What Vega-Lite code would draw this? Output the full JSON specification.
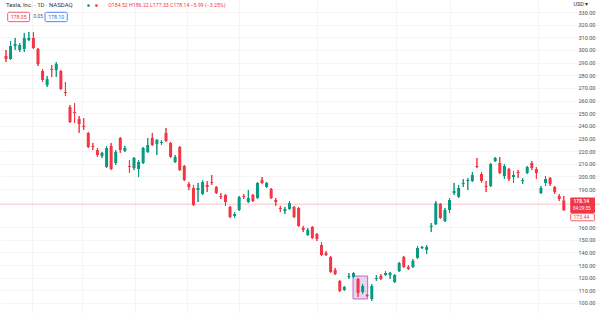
{
  "$schema": "https://vega.github.io/schema/vega-lite/v6.json",
  "width": 600,
  "height": 313,
  "autosize": {"type": "none"},
  "padding": 0,
  "background": "white",
  "config": {"view": {"stroke": null}, "font": "Roboto"},
  "data": {"values": [
    {"i":0,"o":295.3,"h":300.0,"l":290.5,"c":292.9},
    {"i":1,"o":292.9,"h":307.1,"l":292.1,"c":303.1},
    {"i":2,"o":303.1,"h":309.5,"l":300.0,"c":304.7},
    {"i":3,"o":300.0,"h":305.5,"l":298.4,"c":303.9},
    {"i":4,"o":300.8,"h":313.4,"l":298.4,"c":309.5},
    {"i":5,"o":307.9,"h":314.2,"l":307.1,"c":309.5},
    {"i":6,"o":309.5,"h":314.2,"l":300.8,"c":301.6},
    {"i":7,"o":300.8,"h":301.6,"l":287.3,"c":288.9},
    {"i":8,"o":283.4,"h":285.0,"l":274.7,"c":276.3},
    {"i":9,"o":272.3,"h":279.4,"l":270.8,"c":277.0},
    {"i":10,"o":285.0,"h":288.1,"l":278.6,"c":284.2},
    {"i":11,"o":284.2,"h":290.5,"l":278.6,"c":288.9},
    {"i":12,"o":283.4,"h":284.2,"l":268.4,"c":269.2},
    {"i":13,"o":266.8,"h":274.7,"l":263.6,"c":266.0},
    {"i":14,"o":254.9,"h":256.5,"l":242.3,"c":243.1},
    {"i":15,"o":251.0,"h":258.1,"l":242.3,"c":250.2},
    {"i":16,"o":245.5,"h":247.8,"l":234.4,"c":241.5},
    {"i":17,"o":239.9,"h":246.2,"l":236.8,"c":239.1},
    {"i":18,"o":234.4,"h":235.2,"l":222.5,"c":223.3},
    {"i":19,"o":224.1,"h":226.5,"l":220.9,"c":223.3},
    {"i":20,"o":220.9,"h":222.5,"l":215.4,"c":217.0},
    {"i":21,"o":216.2,"h":219.4,"l":214.6,"c":218.6},
    {"i":22,"o":207.5,"h":224.1,"l":206.7,"c":222.5},
    {"i":23,"o":224.1,"h":226.5,"l":205.1,"c":205.9},
    {"i":24,"o":210.7,"h":220.9,"l":209.1,"c":219.4},
    {"i":25,"o":230.4,"h":231.2,"l":218.6,"c":220.9},
    {"i":26,"o":220.2,"h":224.1,"l":219.4,"c":222.5},
    {"i":27,"o":208.3,"h":213.0,"l":202.8,"c":207.5},
    {"i":28,"o":206.7,"h":215.4,"l":205.1,"c":214.6},
    {"i":29,"o":205.9,"h":213.0,"l":199.6,"c":211.5},
    {"i":30,"o":210.7,"h":223.3,"l":209.9,"c":222.5},
    {"i":31,"o":219.4,"h":230.4,"l":218.6,"c":224.9},
    {"i":32,"o":230.4,"h":234.4,"l":224.1,"c":224.9},
    {"i":33,"o":225.7,"h":229.6,"l":217.0,"c":228.8},
    {"i":34,"o":226.5,"h":228.8,"l":224.9,"c":227.3},
    {"i":35,"o":234.4,"h":238.3,"l":227.3,"c":228.1},
    {"i":36,"o":226.5,"h":227.3,"l":214.6,"c":215.4},
    {"i":37,"o":211.5,"h":217.0,"l":210.7,"c":215.4},
    {"i":38,"o":223.3,"h":224.1,"l":204.4,"c":205.1},
    {"i":39,"o":208.3,"h":209.1,"l":196.4,"c":197.2},
    {"i":40,"o":194.1,"h":195.6,"l":189.3,"c":191.7},
    {"i":41,"o":190.9,"h":193.3,"l":176.7,"c":177.5},
    {"i":42,"o":189.3,"h":194.9,"l":179.8,"c":190.9},
    {"i":43,"o":186.2,"h":197.2,"l":185.4,"c":195.6},
    {"i":44,"o":193.3,"h":196.4,"l":187.7,"c":191.7},
    {"i":45,"o":195.6,"h":201.2,"l":193.3,"c":194.9},
    {"i":46,"o":191.7,"h":192.5,"l":186.2,"c":186.9},
    {"i":47,"o":184.6,"h":186.9,"l":182.2,"c":183.8},
    {"i":48,"o":185.4,"h":186.2,"l":176.7,"c":179.8},
    {"i":49,"o":175.9,"h":176.7,"l":167.2,"c":168.0},
    {"i":50,"o":168.8,"h":171.9,"l":167.2,"c":170.4},
    {"i":51,"o":173.5,"h":184.6,"l":172.7,"c":183.8},
    {"i":52,"o":184.6,"h":186.2,"l":182.2,"c":183.8},
    {"i":53,"o":179.8,"h":189.3,"l":179.0,"c":183.0},
    {"i":54,"o":185.4,"h":186.2,"l":179.8,"c":180.6},
    {"i":55,"o":183.0,"h":195.6,"l":182.2,"c":194.9},
    {"i":56,"o":197.2,"h":199.6,"l":194.1,"c":194.9},
    {"i":57,"o":191.7,"h":195.6,"l":190.9,"c":194.9},
    {"i":58,"o":190.1,"h":190.9,"l":182.2,"c":183.0},
    {"i":59,"o":181.4,"h":183.0,"l":176.7,"c":179.8},
    {"i":60,"o":175.1,"h":176.7,"l":171.9,"c":174.3},
    {"i":61,"o":172.7,"h":175.9,"l":170.4,"c":174.3},
    {"i":62,"o":174.3,"h":180.6,"l":173.5,"c":179.0},
    {"i":63,"o":175.9,"h":176.7,"l":167.2,"c":168.0},
    {"i":64,"o":175.1,"h":175.9,"l":160.1,"c":160.9},
    {"i":65,"o":159.3,"h":160.9,"l":156.1,"c":157.8},
    {"i":66,"o":153.8,"h":159.3,"l":153.0,"c":157.8},
    {"i":67,"o":160.1,"h":160.9,"l":150.6,"c":151.4},
    {"i":68,"o":154.5,"h":155.3,"l":149.0,"c":150.6},
    {"i":69,"o":145.8,"h":148.2,"l":137.2,"c":137.9},
    {"i":70,"o":139.5,"h":141.1,"l":137.2,"c":137.9},
    {"i":71,"o":136.4,"h":137.2,"l":123.7,"c":124.5},
    {"i":72,"o":126.1,"h":127.7,"l":122.1,"c":122.9},
    {"i":73,"o":117.4,"h":118.2,"l":108.7,"c":109.5},
    {"i":74,"o":110.3,"h":113.4,"l":109.5,"c":112.6},
    {"i":75,"o":120.6,"h":123.7,"l":119.0,"c":121.3},
    {"i":76,"o":120.6,"h":124.5,"l":119.8,"c":123.7},
    {"i":77,"o":119.0,"h":119.8,"l":104.7,"c":107.9},
    {"i":78,"o":108.7,"h":115.0,"l":107.1,"c":113.4},
    {"i":79,"o":106.3,"h":107.1,"l":104.7,"c":105.5},
    {"i":80,"o":103.2,"h":115.0,"l":101.6,"c":113.4},
    {"i":81,"o":119.0,"h":122.1,"l":117.4,"c":119.8},
    {"i":82,"o":121.3,"h":122.9,"l":118.2,"c":119.0},
    {"i":83,"o":122.1,"h":125.3,"l":121.3,"c":123.7},
    {"i":84,"o":122.1,"h":124.5,"l":119.0,"c":123.7},
    {"i":85,"o":116.6,"h":122.9,"l":115.8,"c":122.1},
    {"i":86,"o":125.3,"h":132.4,"l":124.5,"c":131.6},
    {"i":87,"o":136.4,"h":137.2,"l":127.7,"c":128.5},
    {"i":88,"o":128.5,"h":130.0,"l":126.1,"c":126.9},
    {"i":89,"o":128.5,"h":134.8,"l":127.7,"c":133.2},
    {"i":90,"o":135.6,"h":145.1,"l":134.8,"c":143.5},
    {"i":91,"o":143.5,"h":145.1,"l":142.7,"c":144.3},
    {"i":92,"o":141.9,"h":145.8,"l":138.7,"c":144.3},
    {"i":93,"o":160.1,"h":163.2,"l":156.1,"c":160.9},
    {"i":94,"o":162.4,"h":180.6,"l":161.6,"c":179.0},
    {"i":95,"o":178.3,"h":179.0,"l":166.4,"c":167.2},
    {"i":96,"o":164.8,"h":175.1,"l":164.0,"c":173.5},
    {"i":97,"o":173.5,"h":183.0,"l":171.1,"c":181.4},
    {"i":98,"o":186.9,"h":194.9,"l":185.4,"c":188.5},
    {"i":99,"o":183.8,"h":193.3,"l":183.0,"c":190.9},
    {"i":100,"o":194.1,"h":198.0,"l":191.7,"c":194.9},
    {"i":101,"o":196.4,"h":198.8,"l":189.3,"c":197.2},
    {"i":102,"o":196.4,"h":203.6,"l":195.6,"c":201.2},
    {"i":103,"o":208.3,"h":214.6,"l":206.7,"c":207.5},
    {"i":104,"o":202.0,"h":203.6,"l":194.9,"c":196.4},
    {"i":105,"o":192.5,"h":196.4,"l":187.7,"c":191.7},
    {"i":106,"o":192.5,"h":210.7,"l":191.7,"c":209.9},
    {"i":107,"o":212.2,"h":215.4,"l":211.5,"c":214.6},
    {"i":108,"o":210.7,"h":215.4,"l":202.0,"c":202.8},
    {"i":109,"o":200.4,"h":209.9,"l":198.0,"c":208.3},
    {"i":110,"o":205.9,"h":206.7,"l":196.4,"c":198.0},
    {"i":111,"o":199.6,"h":204.4,"l":194.9,"c":201.2},
    {"i":112,"o":203.6,"h":205.1,"l":198.8,"c":202.8},
    {"i":113,"o":196.4,"h":198.8,"l":194.1,"c":197.2},
    {"i":114,"o":202.8,"h":208.3,"l":202.0,"c":207.5},
    {"i":115,"o":210.7,"h":212.2,"l":205.1,"c":206.7},
    {"i":116,"o":205.9,"h":207.5,"l":198.0,"c":202.8},
    {"i":117,"o":186.9,"h":192.5,"l":186.2,"c":190.9},
    {"i":118,"o":194.9,"h":200.4,"l":192.5,"c":198.0},
    {"i":119,"o":198.8,"h":199.6,"l":192.5,"c":194.1},
    {"i":120,"o":191.7,"h":192.5,"l":186.2,"c":187.7},
    {"i":121,"o":184.6,"h":186.2,"l":180.6,"c":182.2},
    {"i":122,"o":181.0,"h":184.6,"l":172.7,"c":173.4}
  ]},
  "layer": [
    {
      "mark": {"type": "rule", "strokeWidth": 1},
      "encoding": {
        "x": {"field": "i", "type": "quantitative", "scale": {"domain": [-0.215, 128.82], "nice": false, "zero": false},
              "axis": {"orient": "bottom", "title": null, "labels": false, "ticks": false, "domain": false, "grid": true, "gridColor": "#f5f5f5", "tickCount": 20, "values": [5.6, 16.6, 28.2, 39.6, 51.0, 68.0, 85.4, 97.2, 116.3]}},
        "y": {"field": "l", "type": "quantitative", "scale": {"domain": [92.09, 339.52], "nice": false, "zero": false},
              "axis": {"orient": "right", "offset": -25, "title": null, "tickCount": 40, "values": [100,110,120,130,140,150,160,190,200,210,220,230,240,250,260,270,280,290,300,310,320,330], "format": ".2f", "domain": false, "ticks": false, "tickSize": 0, "labelPadding": 3, "labelFontSize": 5.5, "labelColor": "#555555", "labelFont": "Roboto", "labelAlign": "left", "labelBaseline": "middle", "labelOverlap": false, "labelFlush": false, "labelBound": false, "grid": true, "gridColor": "#f5f5f5"}},
        "y2": {"field": "h"},
        "color": {"condition": {"test": "datum.c > datum.o", "value": "#089981"}, "value": "#f23645"}
      }
    },
    {
      "data": {"values": [{}]},
      "mark": {"type": "rect", "fill": "#ce93d8", "fillOpacity": 0.4, "stroke": "#ba68c8", "strokeWidth": 1},
      "encoding": {
        "x": {"datum": 75.9, "scale": {"domain": [-0.215, 128.82], "nice": false, "zero": false}},
        "x2": {"datum": 79.1},
        "y": {"datum": 103.2, "scale": {"domain": [92.09, 339.52], "nice": false, "zero": false}},
        "y2": {"datum": 121.3}
      }
    },
    {
      "data": {"values": [{}]},
      "mark": {"type": "rule", "stroke": "#f23645", "strokeOpacity": 0.3, "strokeWidth": 1},
      "encoding": {
        "y": {"datum": 178.14, "scale": {"domain": [92.09, 339.52], "nice": false, "zero": false}}
      }
    },
    {
      "mark": {"type": "rule", "strokeWidth": 1},
      "encoding": {
        "x": {"field": "i", "type": "quantitative", "scale": {"domain": [-0.215, 128.82], "nice": false, "zero": false}},
        "y": {"field": "l", "type": "quantitative", "scale": {"domain": [92.09, 339.52], "nice": false, "zero": false}},
        "y2": {"field": "h"},
        "color": {"condition": {"test": "datum.c > datum.o", "value": "#089981"}, "value": "#f23645"}
      }
    },
    {
      "mark": {"type": "bar", "size": 3},
      "encoding": {
        "x": {"field": "i", "type": "quantitative", "scale": {"domain": [-0.215, 128.82], "nice": false, "zero": false}},
        "y": {"field": "o", "type": "quantitative", "scale": {"domain": [92.09, 339.52], "nice": false, "zero": false}},
        "y2": {"field": "c"},
        "color": {"condition": {"test": "datum.c > datum.o", "value": "#089981"}, "value": "#f23645"}
      }
    },
    {
      "data": {"values": [{}]},
      "layer": [
        {"mark": {"type": "text", "text": "Tesla, Inc. · 1D · NASDAQ", "align": "left", "baseline": "middle", "fontSize": 6, "color": "#333333", "font": "Roboto"},
         "encoding": {"x": {"datum": 0, "scale": {"domain": [-0.215, 128.82], "nice": false, "zero": false}}, "y": {"datum": 335.2, "scale": {"domain": [92.09, 339.52], "nice": false, "zero": false}}}},
        {"mark": {"type": "point", "filled": true, "size": 7, "color": "#089981", "opacity": 1},
         "encoding": {"x": {"datum": 18.06}, "y": {"datum": 335.1}}},
        {"mark": {"type": "point", "filled": true, "size": 7, "color": "#f23645", "opacity": 1},
         "encoding": {"x": {"datum": 19.78}, "y": {"datum": 335.1}}},
        {"mark": {"type": "text", "text": "O184.52 H186.22 L177.33 C178.14 −5.99 (−3.25%)", "align": "left", "baseline": "middle", "fontSize": 5.2, "color": "#f23645", "font": "Roboto"},
         "encoding": {"x": {"datum": 22.37}, "y": {"datum": 335.2}}},
        {"mark": {"type": "rect", "fill": "white", "stroke": "#f23645", "strokeWidth": 0.8, "cornerRadius": 1.5},
         "encoding": {"x": {"datum": 0.366}, "x2": {"datum": 5.16}, "y": {"datum": 329.8}, "y2": {"datum": 322.4}}},
        {"mark": {"type": "text", "text": "178.05", "align": "center", "baseline": "middle", "fontSize": 5.2, "color": "#f23645", "font": "Roboto"},
         "encoding": {"x": {"datum": 2.76}, "y": {"datum": 326.1}}},
        {"mark": {"type": "text", "text": "0.05", "align": "left", "baseline": "middle", "fontSize": 4.8, "color": "#555555", "font": "Roboto"},
         "encoding": {"x": {"datum": 6.02}, "y": {"datum": 326.1}}},
        {"mark": {"type": "rect", "fill": "white", "stroke": "#2962ff", "strokeWidth": 0.8, "cornerRadius": 1.5},
         "encoding": {"x": {"datum": 8.54}, "x2": {"datum": 13.4}, "y": {"datum": 329.8}, "y2": {"datum": 322.4}}},
        {"mark": {"type": "text", "text": "178.10", "align": "center", "baseline": "middle", "fontSize": 5.2, "color": "#2962ff", "font": "Roboto"},
         "encoding": {"x": {"datum": 10.97}, "y": {"datum": 326.1}}},
        {"mark": {"type": "rect", "fill": "white"},
         "encoding": {"x": {"datum": 123.4}, "x2": {"datum": 128.82}, "y": {"datum": 339.52}, "y2": {"datum": 331.3}}},
        {"mark": {"type": "text", "text": "USD ▾", "align": "left", "baseline": "middle", "fontSize": 5.5, "color": "#333333", "font": "Roboto"},
         "encoding": {"x": {"datum": 124.1}, "y": {"datum": 336.7}}},
        {"mark": {"type": "rect", "fill": "#f23645", "cornerRadius": 1},
         "encoding": {"x": {"datum": 123.4}, "x2": {"datum": 128.82}, "y": {"datum": 183.4}, "y2": {"datum": 171.1}}},
        {"mark": {"type": "text", "text": "178.14", "align": "left", "baseline": "middle", "fontSize": 5, "color": "white", "font": "Roboto", "fontWeight": "bold"},
         "encoding": {"x": {"datum": 124.1}, "y": {"datum": 180.5}}},
        {"mark": {"type": "text", "text": "04:29:35", "align": "left", "baseline": "middle", "fontSize": 4.6, "color": "white", "font": "Roboto"},
         "encoding": {"x": {"datum": 124.0}, "y": {"datum": 174.0}}},
        {"mark": {"type": "rect", "fill": "white", "stroke": "#f23645", "strokeWidth": 0.8, "cornerRadius": 1},
         "encoding": {"x": {"datum": 123.5}, "x2": {"datum": 128.7}, "y": {"datum": 170.6}, "y2": {"datum": 165.0}}},
        {"mark": {"type": "text", "text": "173.44", "align": "left", "baseline": "middle", "fontSize": 5.2, "color": "#f23645", "font": "Roboto"},
         "encoding": {"x": {"datum": 124.1}, "y": {"datum": 167.8}}}
      ]
    }
  ]
}
